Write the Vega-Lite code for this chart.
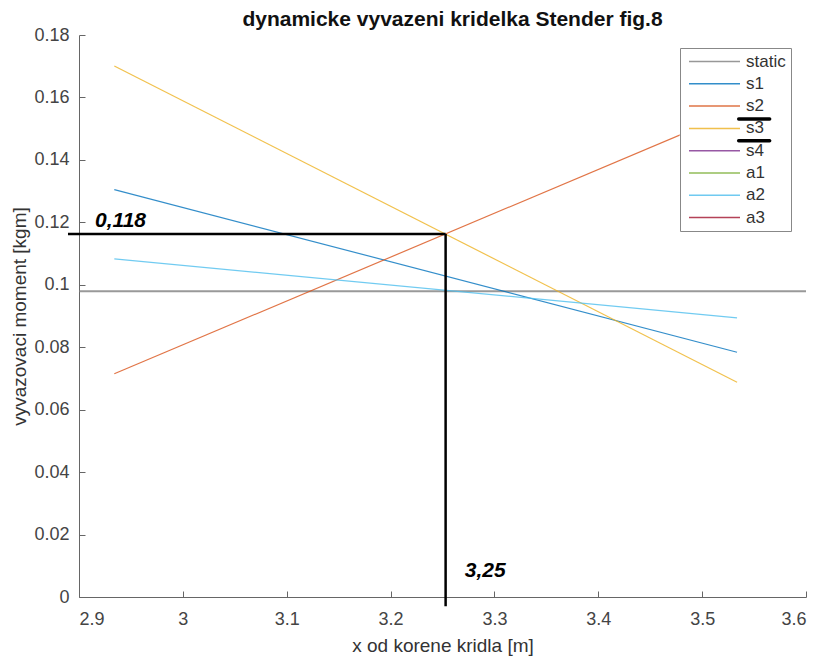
{
  "$schema": "https://vega.github.io/schema/vega-lite/v6.json",
  "width": 727,
  "height": 562,
  "autosize": "none",
  "padding": {"left": 79, "top": 35, "right": 14, "bottom": 61},
  "background": "white",
  "config": {
    "font": "Liberation Sans",
    "view": {"stroke": null}
  },
  "title": {
    "text": "dynamicke vyvazeni kridelka Stender fig.8",
    "font": "Liberation Sans",
    "fontSize": 21,
    "fontWeight": "bold",
    "color": "#111",
    "anchor": "middle",
    "offset": 0,
    "dx": 10,
    "dy": 4
  },
  "datasets": {
    "lines": [
      {"series": "static", "x": 2.9, "y": 0.0979},
      {"series": "static", "x": 3.6, "y": 0.0979},
      {"series": "s1", "x": 2.934, "y": 0.1305},
      {"series": "s1", "x": 3.5336, "y": 0.0784},
      {"series": "s2", "x": 2.934, "y": 0.0715},
      {"series": "s2", "x": 3.5336, "y": 0.1557},
      {"series": "s3", "x": 2.934, "y": 0.1701},
      {"series": "s3", "x": 3.5336, "y": 0.0688},
      {"series": "a2", "x": 2.934, "y": 0.1083},
      {"series": "a2", "x": 3.5336, "y": 0.0894}
    ],
    "guides": [
      {"x": 2.8894, "x2": 3.253, "y": 0.1163, "y2": 0.1163},
      {"x": 3.253, "x2": 3.253, "y": 0.1163, "y2": -0.003}
    ],
    "underlines": [
      {"x": 3.5352, "x2": 3.565, "y": 0.1531},
      {"x": 3.5352, "x2": 3.565, "y": 0.1461}
    ],
    "legendbox": [
      {"x": 3.4784, "x2": 3.5853, "y": 0.1754, "y2": 0.1173}
    ],
    "labels": [
      {"x": 2.9154, "y": 0.1205, "label": "0,118"},
      {"x": 3.2715, "y": 0.0083, "label": "3,25"}
    ]
  },
  "layer": [
    {
      "data": {"name": "lines"},
      "mark": {"type": "line", "clip": false, "opacity": 0.8},
      "encoding": {
        "x": {
          "field": "x", "type": "quantitative",
          "scale": {"domain": [2.9, 3.6], "nice": false, "zero": false},
          "axis": {
            "title": "x od korene kridla [m]",
            "values": [2.9, 3, 3.1, 3.2, 3.3, 3.4, 3.5, 3.6],
            "format": "~g",
            "grid": false,
            "domainColor": "#666",
            "tickColor": "#666",
            "tickSize": -6,
            "labelPadding": 19,
            "labelFontSize": 18,
            "labelColor": "#444",
            "titleFontSize": 19,
            "titleFontWeight": "normal",
            "titleColor": "#333",
            "titlePadding": 8
          }
        },
        "y": {
          "field": "y", "type": "quantitative",
          "scale": {"domain": [0, 0.18], "nice": false},
          "axis": {
            "title": "vyvazovaci moment [kgm]",
            "values": [0, 0.02, 0.04, 0.06, 0.08, 0.1, 0.12, 0.14, 0.16, 0.18],
            "format": "~g",
            "grid": false,
            "domainColor": "#666",
            "tickColor": "#666",
            "tickSize": -6,
            "labelPadding": 16,
            "labelFontSize": 18,
            "labelColor": "#444",
            "titleFontSize": 19,
            "titleFontWeight": "normal",
            "titleColor": "#333",
            "titlePadding": 4
          }
        },
        "color": {
          "field": "series", "type": "nominal",
          "scale": {
            "domain": ["static", "s1", "s2", "s3", "s4", "a1", "a2", "a3"],
            "range": ["#7f7f7f", "#0072BD", "#D95319", "#EDB120", "#7E2F8E", "#77AC30", "#4DBEEE", "#A2142F"]
          },
          "legend": {
            "title": null,
            "orient": "none",
            "legendX": 601,
            "legendY": 13,
            "strokeColor": "#888",
            "padding": 5,
            "symbolType": "M-0.9,0H9.3",
            "symbolSize": 100,
            "symbolStrokeWidth": 1.5,
            "symbolOpacity": 0.8,
            "labelFontSize": 17,
            "labelColor": "#333",
            "labelOffset": 44,
            "rowPadding": 4.3
          }
        },
        "strokeWidth": {
          "condition": {"test": "datum.series === 'static'", "value": 2},
          "value": 1.2
        }
      }
    },
    {
      "data": {"name": "legendbox"},
      "mark": {"type": "rect", "color": "white", "opacity": 1, "clip": false},
      "encoding": {
        "x": {"field": "x", "type": "quantitative"},
        "x2": {"field": "x2"},
        "y": {"field": "y", "type": "quantitative"},
        "y2": {"field": "y2"}
      }
    },
    {
      "data": {"name": "guides"},
      "mark": {"type": "rule", "color": "black", "strokeWidth": 2.5, "clip": false},
      "encoding": {
        "x": {"field": "x", "type": "quantitative"},
        "x2": {"field": "x2"},
        "y": {"field": "y", "type": "quantitative"},
        "y2": {"field": "y2"}
      }
    },
    {
      "data": {"name": "underlines"},
      "mark": {"type": "rule", "color": "black", "strokeWidth": 3.5, "strokeCap": "round", "clip": false},
      "encoding": {
        "x": {"field": "x", "type": "quantitative"},
        "x2": {"field": "x2"},
        "y": {"field": "y", "type": "quantitative"}
      }
    },
    {
      "data": {"name": "labels"},
      "mark": {"type": "text", "align": "left", "baseline": "middle", "fontSize": 21, "fontWeight": "bold", "fontStyle": "italic", "color": "black", "clip": false},
      "encoding": {
        "x": {"field": "x", "type": "quantitative"},
        "y": {"field": "y", "type": "quantitative"},
        "text": {"field": "label"}
      }
    }
  ]
}
